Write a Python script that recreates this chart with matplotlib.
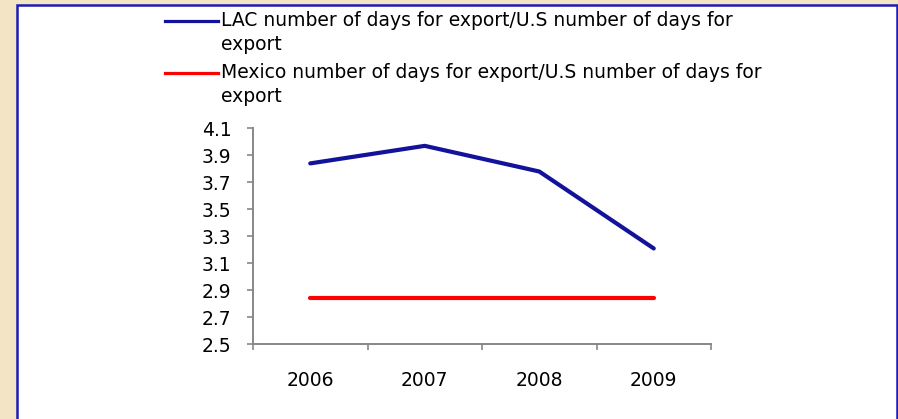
import numpy as np
import matplotlib
matplotlib.use('Agg')
from matplotlib import pyplot as plt
from matplotlib.lines import Line2D
from matplotlib.patches import Rectangle


years = ['2006', '2007', '2008', '2009']
lac_ratio = [3.84, 3.97, 3.78, 3.21]
mexico_ratio = [2.84, 2.84, 2.84, 2.84]
series_labels = ['LAC number of days for export/U.S number of days for\nexport',
                 'Mexico number of days for export/U.S number of days for\nexport']
y_ticks = [2.5, 2.7, 2.9, 3.1, 3.3, 3.5, 3.7, 3.9, 4.1]

blue = '#12129a'
red = '#ff0000'
axis_grey = '#878787'

plt.rcParams['font.family'] = ['DejaVu Sans']
font_size = 13.5

W, H = 898, 419
fig = plt.figure(figsize=(W / 100, H / 100), dpi=100)
fig.patch.set_facecolor('#f4e4c6')

# white panel with blue frame
fig.add_artist(Rectangle((17 / W, -0.05), 880 / W, 1.05 - 5 / H,
                         transform=fig.transFigure, facecolor='white',
                         edgecolor='#1c1cb4', linewidth=1.8, zorder=0))

ax = fig.add_axes([253 / W, (H - 344.3) / H, (711 - 253) / W, (344.3 - 128.3) / H])
ax.set_facecolor('none')

x = np.arange(len(years))
ax.plot(x, lac_ratio, color=blue, linewidth=3.0, solid_capstyle='round', solid_joinstyle='round')
ax.plot(x, mexico_ratio, color=red, linewidth=3.0, solid_capstyle='round')

ax.set_xlim(-0.5, len(years) - 0.5)
ax.set_ylim(y_ticks[0], y_ticks[-1])
ax.set_yticks(y_ticks)
ax.set_yticklabels([f'{t:.1f}' for t in y_ticks], fontsize=font_size)

# ticks on category boundaries, labels in between
ax.set_xticks(np.arange(-0.5, len(years), 1.0))
ax.set_xticklabels([])
ax.set_xticks(x, minor=True)
ax.set_xticklabels(years, minor=True, fontsize=font_size)
ax.tick_params(axis='x', which='major', direction='out', length=4.5, width=1.2, color=axis_grey)
ax.tick_params(axis='x', which='minor', length=0, pad=19)
ax.tick_params(axis='y', direction='out', length=4.5, width=1.2, color=axis_grey, pad=11)

for side in ['top', 'right']:
    ax.spines[side].set_visible(False)
for side in ['left', 'bottom']:
    ax.spines[side].set_color(axis_grey)
    ax.spines[side].set_linewidth(1.4)

# legend drawn by hand: handle next to the first line of a wrapped label
legend_y = [21.5, 73.5]
for label, color, ly in zip(series_labels, [blue, red], legend_y):
    fig.add_artist(Line2D([165 / W, 218 / W], [(H - ly) / H] * 2, transform=fig.transFigure,
                          color=color, linewidth=2.3))
    fig.text(221 / W, (H - ly + 10) / H, label, fontsize=font_size, ha='left', va='top',
             linespacing=1.3)

fig.savefig('out.png', dpi=100, facecolor=fig.get_facecolor())
